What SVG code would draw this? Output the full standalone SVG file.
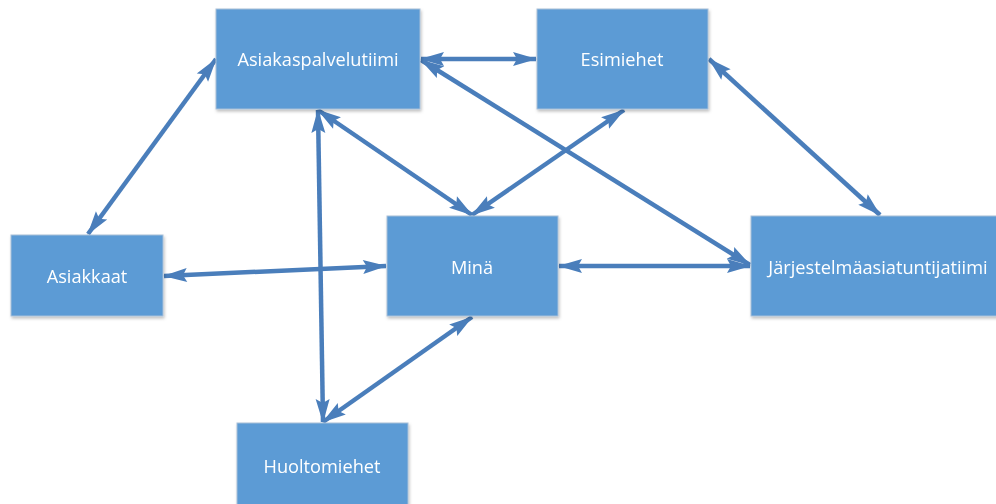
<svg xmlns="http://www.w3.org/2000/svg" width="996" height="504" viewBox="0 0 996 504">
<defs>
<style>
.box{fill:#5b9bd5;stroke:#a8bfd8;stroke-width:1}
.lbl{fill:#ffffff;font-family:"Open Sans","Liberation Sans",sans-serif;font-size:18.2px;text-anchor:middle}
.c{stroke:#4a7ebb;stroke-width:4.5;fill:none;marker-start:url(#ah);marker-end:url(#ah)}
</style>
<marker id="ah" viewBox="-26 -9 28 18" refX="0" refY="0" markerWidth="28" markerHeight="18" markerUnits="userSpaceOnUse" orient="auto-start-reverse">
<path d="M1,0 L-23,-7 L-19,0 L-23,7 Z" fill="#4a7ebb"/>
</marker>
<filter id="sh" x="-5%" y="-5%" width="115%" height="115%">
<feDropShadow dx="1" dy="2" stdDeviation="1.5" flood-color="#000" flood-opacity="0.25"/>
</filter>
</defs>
<g id="connectors">
<line class="c" x1="216" y1="59" x2="88" y2="234"/>
<line class="c" x1="421" y1="59" x2="536" y2="59"/>
<line class="c" x1="318" y1="110" x2="323" y2="422"/>
<line class="c" x1="318" y1="110" x2="472" y2="215"/>
<line class="c" x1="421" y1="60" x2="750" y2="265"/>
<line class="c" x1="624" y1="110" x2="472" y2="215"/>
<line class="c" x1="709" y1="59" x2="880" y2="215"/>
<line class="c" x1="164" y1="276" x2="386" y2="266"/>
<line class="c" x1="559" y1="266" x2="750" y2="266"/>
<line class="c" x1="472" y1="317" x2="323" y2="422"/>
</g>
<g id="asiakaspalvelutiimi" filter="url(#sh)">
<rect class="box" x="216" y="9" width="204" height="100"/>
<text class="lbl" x="318" y="66">Asiakaspalvelutiimi</text>
</g>
<g id="esimiehet" filter="url(#sh)">
<rect class="box" x="537" y="9" width="171" height="100"/>
<text class="lbl" x="622" y="66">Esimiehet</text>
</g>
<g id="asiakkaat" filter="url(#sh)">
<rect class="box" x="11" y="235" width="152" height="81"/>
<text class="lbl" x="87" y="283">Asiakkaat</text>
</g>
<g id="mina" filter="url(#sh)">
<rect class="box" x="387" y="216" width="171" height="100"/>
<text class="lbl" x="472" y="274">Minä</text>
</g>
<g id="jarjestelmaasiantuntijatiimi" filter="url(#sh)">
<rect class="box" x="751" y="216" width="260" height="100"/>
<text class="lbl" x="878" y="274">Järjestelmäasiatuntijatiimi</text>
</g>
<g id="huoltomiehet" filter="url(#sh)">
<rect class="box" x="237" y="423" width="171" height="90"/>
<text class="lbl" x="322" y="473">Huoltomiehet</text>
</g>
</svg>
